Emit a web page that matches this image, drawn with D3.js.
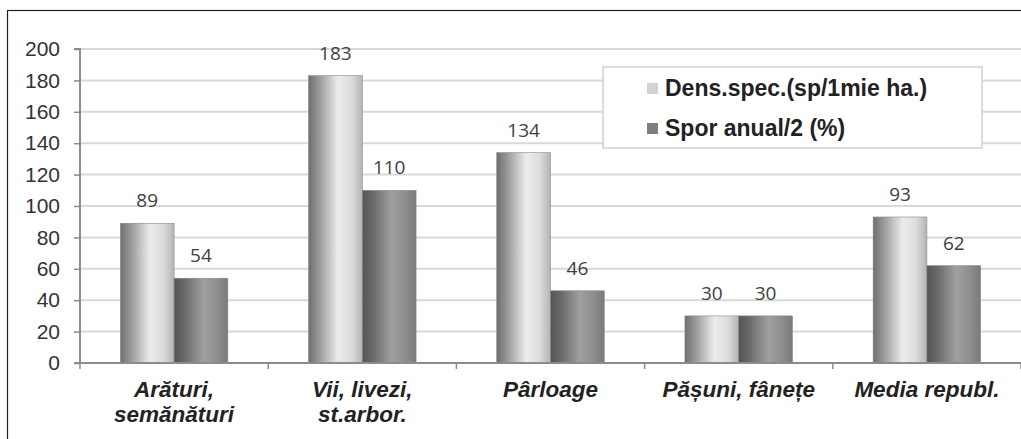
<!DOCTYPE html>
<html><head><meta charset="utf-8">
<script src="https://cdn.jsdelivr.net/npm/d3@7"></script>
<style>body{margin:0;background:#fff}svg{display:block}</style>
</head><body>
<script>
const categories = [["Arături,","semănături"],["Vii, livezi,","st.arbor."],["Pârloage"],["Pășuni, fânețe"],["Media republ."]];
const seriesNames = ["Dens.spec.(sp/1mie ha.)","Spor anual/2 (%)"];
const densSpec = [89,183,134,30,93];
const sporAnual = [54,110,46,30,62];
const yTicks = [0,20,40,60,80,100,120,140,160,180,200];

(function(){
const W=1021,H=439;
const svg=d3.select("body").append("svg").attr("width",W).attr("height",H);
const defs=svg.append("defs");
function grad(id,stops){
  const g=defs.append("linearGradient").attr("id",id).attr("x1","0%").attr("x2","100%").attr("y1","0%").attr("y2","0%");
  stops.forEach(s=>g.append("stop").attr("offset",s[0]).attr("stop-color",s[1]));
}
grad("g0",[["0%","#6e6e6e"],["20%","#9a9a9a"],["55%","#ececec"],["80%","#dcdcdc"],["100%","#b4b4b4"]]);
grad("g1",[["0%","#545454"],["20%","#6a6a6a"],["55%","#a0a0a0"],["80%","#8e8e8e"],["100%","#7a7a7a"]]);

svg.append("rect").attr("x",7.5).attr("y",10.5).attr("width",W+20).attr("height",H+20)
  .attr("fill","none").attr("stroke","#222").attr("stroke-width",1.2);

const pl=80,pr=1021,pt=49,pb=363;
const x=d3.scaleBand().domain(d3.range(categories.length)).range([pl,pr]).paddingInner(0).paddingOuter(0);
const y=d3.scaleLinear().domain([0,200]).range([pb,pt]);
const bw=x.bandwidth()/3.5;
const gapSide=bw*0.75;

svg.append("g").selectAll("line").data(yTicks.filter(d=>d>0)).join("line")
  .attr("x1",pl).attr("x2",pr).attr("y1",d=>y(d)).attr("y2",d=>y(d))
  .attr("stroke","#d9d9d9").attr("stroke-width",2);

const ya=svg.append("g").attr("transform",`translate(${pl},0)`)
  .call(d3.axisLeft(y).tickValues(yTicks).tickSize(6).tickPadding(14));
ya.select(".domain").attr("stroke","#8c8c8c").attr("stroke-width",2).attr("d",`M-6,${pt}H0V${pb}`);
ya.selectAll(".tick line").attr("stroke","#8c8c8c").attr("stroke-width",1.5);
ya.selectAll(".tick text").attr("font-family","Liberation Sans, Arial, sans-serif").attr("font-size",21).attr("fill","#333");

const series=[densSpec,sporAnual];
series.forEach((vals,si)=>{
  svg.append("g").selectAll("rect").data(vals).join("rect")
    .attr("x",(d,i)=>x(i)+gapSide+si*bw).attr("width",bw)
    .attr("y",d=>y(d)).attr("height",d=>y(0)-y(d))
    .attr("fill",`url(#g${si})`).attr("stroke","#8a8a8a").attr("stroke-width",0.6);
  svg.append("g").selectAll("text").data(vals).join("text")
    .attr("x",(d,i)=>x(i)+gapSide+si*bw+bw/2).attr("y",d=>y(d)-16)
    .attr("text-anchor","middle").attr("font-family","Open Sans, sans-serif").attr("font-size",19)
    .attr("fill","#404040").text(d=>d);
});

const xa=svg.append("g").attr("transform",`translate(0,${pb})`);
xa.append("line").attr("x1",pl-6).attr("x2",pr).attr("y1",0).attr("y2",0).attr("stroke","#8c8c8c").attr("stroke-width",2);
xa.selectAll("line.t").data(d3.range(categories.length+1)).join("line").attr("class","t")
  .attr("x1",i=>pl+i*x.bandwidth()).attr("x2",i=>pl+i*x.bandwidth()).attr("y1",0).attr("y2",6)
  .attr("stroke","#8c8c8c").attr("stroke-width",1.5);
categories.forEach((lines,i)=>{
  const t=svg.append("text").attr("text-anchor","middle")
    .attr("font-family","Liberation Sans, Arial, sans-serif")
    .attr("font-weight","bold").attr("font-style","italic").attr("font-size",22.5).attr("fill","#222");
  lines.forEach((l,j)=>t.append("tspan").attr("x",x(i)+x.bandwidth()/2).attr("y",397+j*25).text(l));
});

const lg=svg.append("g");
lg.append("rect").attr("x",603).attr("y",67).attr("width",379).attr("height",81)
  .attr("fill","#fff").attr("stroke","#d0d0d0").attr("stroke-width",1.5);
const swatch=["#d2d2d2","#7e7e7e"];
seriesNames.forEach((n,i)=>{
  const cy=88+i*40;
  lg.append("rect").attr("x",647).attr("y",cy-5).attr("width",11).attr("height",11).attr("fill",swatch[i]);
  lg.append("text").attr("x",665).attr("y",cy+8).attr("font-family","Liberation Sans, Arial, sans-serif")
    .attr("font-weight","bold").attr("font-size",23).attr("fill","#222").text(n);
});
})();
</script>
</body></html>
